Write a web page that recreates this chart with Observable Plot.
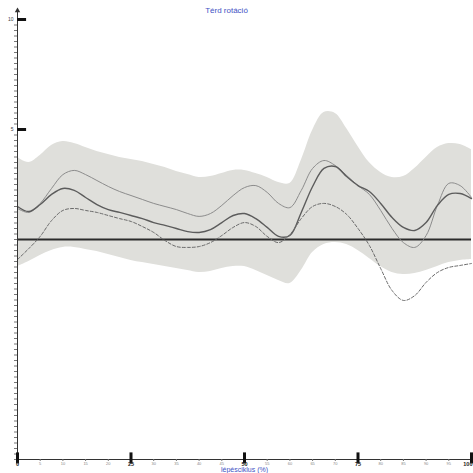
<!DOCTYPE html>
<html>
<head>
<meta charset="utf-8">
<script src="https://cdn.jsdelivr.net/npm/d3@7"></script>
<script src="https://cdn.jsdelivr.net/npm/@observablehq/plot@0.6"></script>
<style>
  html, body { margin: 0; padding: 0; background: #fff; }
  svg { font-family: "Liberation Sans", "DejaVu Sans", sans-serif; }
</style>
</head>
<body>
<div id="chart"></div>
<script>
// gait cycle (%)
const cycle = [0, 2.5, 5, 7.5, 10, 12.5, 15, 17.5, 20, 22.5, 25, 27.5, 30, 32.5, 35, 37.5, 40, 42.5, 45, 47.5,
  50, 52.5, 55, 57.5, 60, 62.5, 65, 67.5, 70, 72.5, 75, 77.5, 80, 82.5, 85, 87.5, 90, 92.5, 95, 97.5, 100];

// reference band (upper / lower edge)
const bandUpper = [3.73, 3.5, 3.82, 4.27, 4.45, 4.36, 4.18, 4.0, 3.86, 3.73, 3.64, 3.55, 3.41, 3.27, 3.09, 2.95, 2.82, 2.86, 3.0, 3.14,
  3.14, 3.0, 2.82, 2.59, 2.55, 3.59, 4.95, 5.77, 5.73, 5.05, 4.23, 3.5, 3.05, 2.82, 2.86, 3.23, 3.73, 4.18, 4.36, 4.32, 4.09];
const bandLower = [-1.23, -1.0, -0.73, -0.5, -0.36, -0.36, -0.45, -0.55, -0.68, -0.82, -0.95, -1.05, -1.14, -1.23, -1.32, -1.41, -1.5, -1.45, -1.32, -1.23,
  -1.23, -1.41, -1.64, -1.86, -2.0, -1.41, -0.59, -0.23, -0.14, -0.23, -0.5, -0.86, -1.23, -1.5, -1.59, -1.55, -1.41, -1.23, -1.05, -0.95, -0.91];

// thin upper line
const lineThin = [1.41, 1.23, 1.64, 2.32, 2.95, 3.14, 2.95, 2.68, 2.41, 2.18, 2.0, 1.82, 1.64, 1.5, 1.36, 1.18, 1.05, 1.18, 1.55, 2.0,
  2.36, 2.45, 2.14, 1.64, 1.45, 2.23, 3.23, 3.59, 3.36, 2.91, 2.45, 2.05, 1.32, 0.5, -0.14, -0.36, 0.18, 1.55, 2.55, 2.45, 1.91];
// solid middle line
const lineSolid = [1.5, 1.27, 1.59, 2.05, 2.32, 2.23, 1.91, 1.59, 1.36, 1.23, 1.09, 0.95, 0.77, 0.64, 0.5, 0.36, 0.32, 0.45, 0.77, 1.09,
  1.18, 0.95, 0.55, 0.14, 0.18, 1.23, 2.41, 3.23, 3.32, 2.86, 2.45, 2.18, 1.64, 1.0, 0.55, 0.41, 0.77, 1.55, 2.05, 2.09, 1.86];
// dashed line
const lineDashed = [-0.91, -0.41, 0.14, 0.86, 1.32, 1.41, 1.32, 1.23, 1.09, 0.95, 0.82, 0.59, 0.32, -0.05, -0.32, -0.36, -0.32, -0.14, 0.18, 0.55,
  0.77, 0.59, 0.14, -0.14, 0.23, 0.95, 1.5, 1.64, 1.5, 1.14, 0.5, -0.27, -1.32, -2.32, -2.77, -2.55, -1.95, -1.5, -1.27, -1.18, -1.09];

const xMajor = [0, 25, 50, 75, 100];
const xMinor = [5, 10, 15, 20, 30, 35, 40, 45, 55, 60, 65, 70, 80, 85, 90, 95];
const yMajor = [5, 10];
const yMinor = d3.range(-40, 41).map(i => i / 4).filter(v => !yMajor.includes(v));
const title = "Térd rotáció";
const xLabel = "lépésciklus (%)";

const data = cycle.map((c, i) => ({
  c, lo: bandLower[i], hi: bandUpper[i], thin: lineThin[i], solid: lineSolid[i], dashed: lineDashed[i]
}));

const blue = "#4152c4";
const curve = "catmull-rom";

const chart = Plot.plot({
  width: 473,
  height: 473,
  marginLeft: 17,
  marginRight: 2,
  marginTop: 19,
  marginBottom: 14,
  x: { domain: [0, 100], axis: null },
  y: { domain: [-10, 10], axis: null },
  marks: [
    Plot.areaY(data, { x: "c", y1: "lo", y2: "hi", fill: "#dfdfdb", curve }),
    Plot.ruleY([0], { stroke: "#2c2c2c", strokeWidth: 2 }),
    Plot.lineY(data, { x: "c", y: "thin", stroke: "#8c8c8c", strokeWidth: 1, curve }),
    Plot.lineY(data, { x: "c", y: "solid", stroke: "#5c5c5c", strokeWidth: 1.4, curve }),
    Plot.lineY(data, { x: "c", y: "dashed", stroke: "#6a6a6a", strokeWidth: 1, strokeDasharray: "3,2", curve }),
    // y axis
    Plot.ruleX([0], { y1: -10, y2: 10.4, stroke: "#333", strokeWidth: 1 }),
    Plot.dot([10.4], { x: () => 0, y: d => d, symbol: "triangle", r: 2, fill: "#333" }),
    Plot.axisY({ ticks: yMinor, tickSize: 3, tickFormat: () => "", label: null, stroke: "#777" }),
    Plot.ruleY(yMajor, { x1: 0, x2: 2, stroke: "#111", strokeWidth: 3 }),
    Plot.text(yMajor, { x: () => 0, y: d => d, text: d => String(d), dx: -4, textAnchor: "end", fontSize: 5, fill: "#444" }),
    // x axis
    Plot.ruleY([-10], { stroke: "#333", strokeWidth: 1 }),
    Plot.axisX({ ticks: xMinor, tickSize: 2, tickPadding: 1, fontSize: 4, fill: "#888", stroke: "#777", label: null }),
    Plot.ruleX(xMajor, { y1: -10.2, y2: -9.7, stroke: "#111", strokeWidth: 3 }),
    Plot.text(xMajor.slice(0, 4), { x: d => d, text: d => String(d), frameAnchor: "bottom", dy: 5, lineAnchor: "middle", fontSize: 5.5, fontWeight: "bold", fill: "#222" }),
    Plot.text(xMajor.slice(4), { x: d => d, text: d => String(d), frameAnchor: "bottom", dy: 5, lineAnchor: "middle", textAnchor: "end", dx: 1, fontSize: 5.5, fontWeight: "bold", fill: "#222" }),
    // title and label
    Plot.text([title], { text: d => d, frameAnchor: "top", dx: -18, dy: -9, lineAnchor: "middle", fontSize: 8, fill: blue }),
    Plot.text([xLabel], { text: d => d, frameAnchor: "bottom", dy: 10.5, lineAnchor: "middle", fontSize: 7, fill: blue })
  ]
});

document.getElementById("chart").appendChild(chart);
</script>
</body>
</html>
